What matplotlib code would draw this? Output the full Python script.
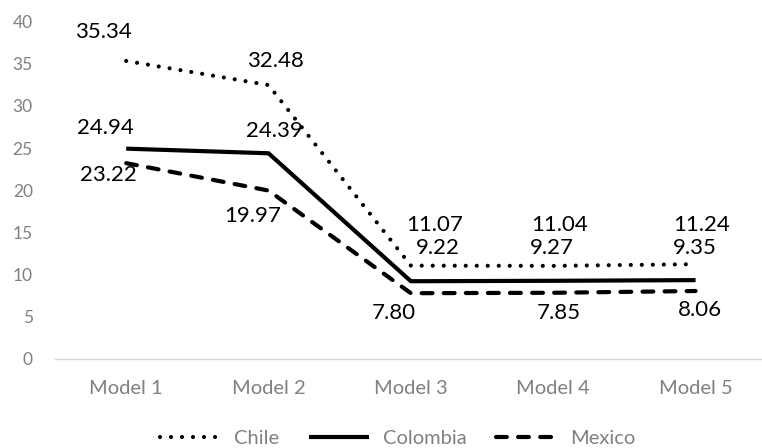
import matplotlib.pyplot as plt

plt.rcParams["font.family"] = ["Lato", "DejaVu Sans"]

models = ["Model 1", "Model 2", "Model 3", "Model 4", "Model 5"]
chile = [35.34, 32.48, 11.07, 11.04, 11.24]
colombia = [24.94, 24.39, 9.22, 9.27, 9.35]
mexico = [23.22, 19.97, 7.80, 7.85, 8.06]
y_ticks = [0, 5, 10, 15, 20, 25, 30, 35, 40]

# label offsets in pixels (dx, dy) from each point
label_offsets = {
    "Chile": [(-23, 29), (7, 24), (24, 41), (6, 41), (6, 39)],
    "Colombia": [(-21, 21), (6, 22), (27, 33), (-1, 33), (-1, 32)],
    "Mexico": [(-18, -12), (-16, -25), (-17, -20), (6, -20), (4, -19)],
}

fig = plt.figure(figsize=(7.62, 4.48), dpi=100)
ax = fig.add_axes([0.0722, 0.1987, 0.934, 0.753])

x = list(range(len(models)))
lw = 3.0
ax.plot(x, chile, color="black", linewidth=lw, linestyle=(0, (0.001, 2.64)),
        dash_capstyle="round", solid_capstyle="round", label="Chile")
ax.plot(x, colombia, color="black", linewidth=lw, linestyle="-",
        solid_capstyle="butt", label="Colombia")
ax.plot(x, mexico, color="black", linewidth=lw, linestyle=(0, (2.6, 2.7)),
        dash_capstyle="round", label="Mexico")

for name, values in [("Chile", chile), ("Colombia", colombia), ("Mexico", mexico)]:
    for i, val in enumerate(values):
        dx, dy = label_offsets[name][i]
        ax.annotate(f"{val:.2f}", xy=(i, val), xytext=(dx, dy),
                    textcoords="offset pixels", ha="center", va="center",
                    fontsize=16, color="black")

ax.set_xlim(-0.5, 4.5)
ax.set_ylim(0, 40)
ax.set_yticks(y_ticks)
ax.set_xticks(x, models)
ax.tick_params(axis="both", length=0, colors="#808080")
ax.tick_params(axis="y", labelsize=12.5, pad=16)
ax.tick_params(axis="x", labelsize=14.5, pad=15)

for side in ["top", "right", "left"]:
    ax.spines[side].set_visible(False)
ax.spines["bottom"].set_color("#d9d9d9")
ax.spines["bottom"].set_linewidth(1.0)

leg = fig.legend(loc="center", bbox_to_anchor=(0.522, 0.022), ncol=3,
                 frameon=False, fontsize=14.5, handlelength=3.0,
                 handletextpad=0.7, columnspacing=1.45)
for t in leg.get_texts():
    t.set_color("#808080")

fig.savefig("out.png", dpi=100)
